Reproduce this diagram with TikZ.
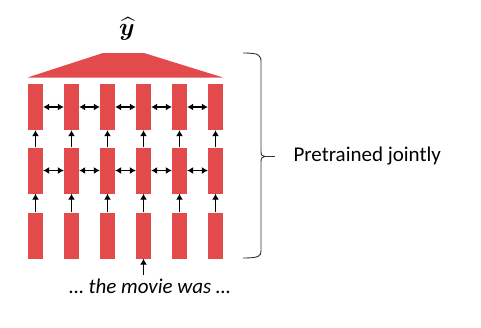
\documentclass[tikz,border=0pt]{standalone}
\usepackage{amsmath,bm}
\usepackage{fontspec}
\newfontfamily\calib{Carlito}
\usetikzlibrary{arrows.meta,positioning}
\definecolor{barred}{RGB}{226,74,76}

\begin{document}
\begin{tikzpicture}[
    x=1pt, y=-1pt,
    bar/.style={rectangle, fill=barred, minimum width=15pt, minimum height=46pt, inner sep=0pt},
    arrow/.style={-{Latex[length=6pt,width=7pt]}, line width=1.1pt},
    dblarrow/.style={{Latex[length=6pt,width=7pt]}-{Latex[length=6pt,width=7pt]}, line width=1.1pt},
    label/.style={font=\calib\fontsize{21}{25}\selectfont},
    brace/.style={line width=0.9pt, black!80}
]
\useasboundingbox (0,0) rectangle (481,327);

% Bars: three layers, six positions
\foreach \c [count=\i] in {35.5,71.5,107.5,143.5,179.5,215.5} {
  \node[bar] (top\i) at (\c,107) {};
  \node[bar] (mid\i) at (\c,170.5) {};
  \node[bar] (bot\i) at (\c,235.5) {};
  \draw[arrow] (bot\i) -- (mid\i);
  \draw[arrow] (mid\i) -- (top\i);
}

% Side-to-side links
\foreach \i/\j in {1/2,2/3,3/4,4/5,5/6} {
  \draw[dblarrow] (top\i) -- (top\j);
  \draw[dblarrow] (mid\i) -- (mid\j);
}

% Output head
\fill[barred] (27.5,77.5) -- (103,53) -- (144,53) -- (223,77.5) -- cycle;
\node (yhat) at (127,29) {\fontsize{27}{30}\selectfont$\bm{\widehat{y}}$};

% Input words
\node[label, font=\calib\itshape\fontsize{21}{25}\selectfont] (words) at (150,286) {… the movie was …};
\draw[arrow] (bot4 |- words.north) -- (bot4.south);

% Brace and its label
\coordinate (tip) at (275,156.5);
\draw[brace] (243,53) .. controls (259,53) and (261,55) .. (261,62) -- (261,151)
  .. controls (261,155) and (262,156.5) .. (265,156.5)
  .. controls (262,156.5) and (261,158) .. (261,162) -- (261,251)
  .. controls (261,256) and (259,258) .. (243,258);
\draw[brace] (265,156.5) -- (tip);
\node[label, right=15pt of tip] (pre) {Pretrained jointly};

\end{tikzpicture}
\end{document}
